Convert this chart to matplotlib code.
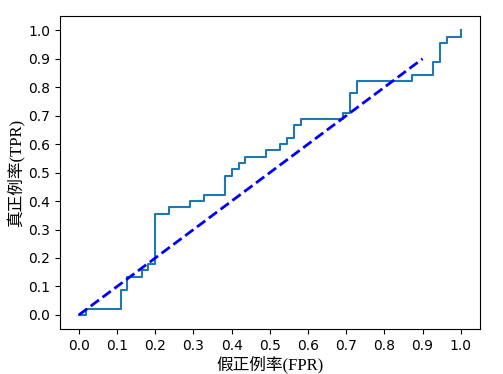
import matplotlib
matplotlib.use("Agg")
import matplotlib.pyplot as plt

fpr = [0.0, 0.018, 0.018, 0.109, 0.109, 0.127, 0.127, 0.164, 0.164, 0.182, 0.182,
       0.2, 0.2, 0.236, 0.236, 0.291, 0.291, 0.327, 0.327, 0.382, 0.382, 0.4, 0.4,
       0.418, 0.418, 0.436, 0.436, 0.491, 0.491, 0.527, 0.527, 0.545, 0.545, 0.564,
       0.564, 0.582, 0.582, 0.691, 0.691, 0.709, 0.709, 0.727, 0.727, 0.873, 0.873,
       0.927, 0.927, 0.945, 0.945, 0.964, 0.964, 1.0, 1.0]
tpr = [0.0, 0.0, 0.022, 0.022, 0.089, 0.089, 0.133, 0.133, 0.156, 0.156, 0.178,
       0.178, 0.356, 0.356, 0.378, 0.378, 0.4, 0.4, 0.422, 0.422, 0.489, 0.489, 0.511,
       0.511, 0.533, 0.533, 0.556, 0.556, 0.578, 0.578, 0.6, 0.6, 0.622, 0.622,
       0.667, 0.667, 0.689, 0.689, 0.711, 0.711, 0.778, 0.778, 0.822, 0.822, 0.844,
       0.844, 0.889, 0.889, 0.956, 0.956, 0.978, 0.978, 1.0]
diag_x = [0.0, 0.9]
diag_y = [0.0, 0.9]
ticks = [0.0, 0.1, 0.2, 0.3, 0.4, 0.5, 0.6, 0.7, 0.8, 0.9, 1.0]
xlabel = "假正例率(FPR)"
ylabel = "真正例率(TPR)"

fam = ["Liberation Serif", "Noto Sans CJK SC", "DejaVu Sans"]

fig = plt.figure(figsize=(5.03, 3.74), dpi=100)
ax = fig.add_axes([0.119, 0.120, 0.835, 0.837])
ax.plot(fpr, tpr, color="#1f77b4", lw=1.5)
ax.plot(diag_x, diag_y, color="blue", lw=2, linestyle="--")
ax.set_xticks(ticks)
ax.set_yticks(ticks)
ax.set_xlabel(xlabel, fontsize=12, family=fam, labelpad=2)
ax.set_ylabel(ylabel, fontsize=12, family=fam, labelpad=2)
fig.savefig("out.png", dpi=100)
